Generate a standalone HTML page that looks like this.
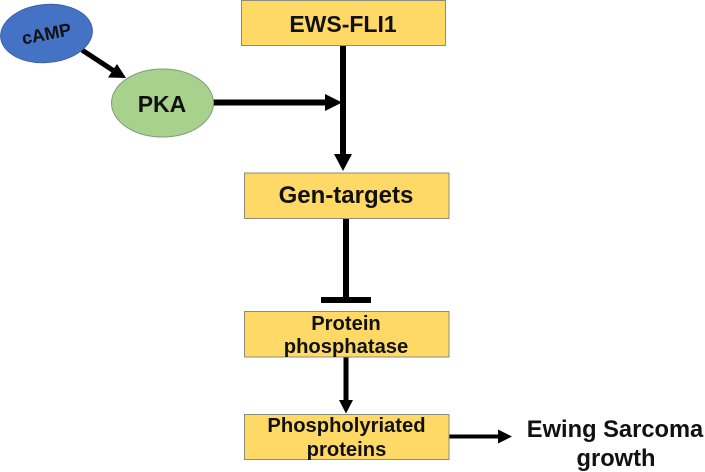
<!DOCTYPE html>
<html lang="en">
<head>
<meta charset="utf-8">
<title>EWS-FLI1 pathway diagram</title>
<style>
html,body{margin:0;padding:0;background:#fff;width:705px;height:472px;overflow:hidden}
svg{display:block}
text{font-family:"Liberation Sans",Arial,sans-serif;font-weight:bold;fill:#111;text-anchor:middle}
.box{fill:#FFD966;stroke:#8c8c7c;stroke-width:1}
.line{stroke:#000;fill:none}
.head{fill:#000}
#soft{filter:blur(0.35px)}
</style>
</head>
<body>
<svg id="soft" width="705" height="472" viewBox="0 0 705 472" xmlns="http://www.w3.org/2000/svg">
  <rect x="0" y="0" width="705" height="472" fill="#fff"/>

  <g>
    <line class="line" x1="82" y1="50" x2="114" y2="71" stroke-width="5"/>
    <polygon class="head" points="126,78 108,77.500 117,64"/>
  </g>
  <g>
    <line class="line" x1="213" y1="102.500" x2="327" y2="102.500" stroke-width="6"/>
    <polygon class="head" points="342,102.500 325,94 325,111"/>
  </g>
  <g>
    <line class="line" x1="343" y1="45" x2="343" y2="157" stroke-width="6"/>
    <polygon class="head" points="343,171 334,154 352,154"/>
  </g>
  <g>
    <line class="line" x1="346" y1="218" x2="346" y2="298" stroke-width="6"/>
    <rect class="head" x="321" y="297" width="50" height="6"/>
  </g>
  <g>
    <line class="line" x1="346" y1="357" x2="346" y2="402" stroke-width="5"/>
    <polygon class="head" points="346,413.500 339,400 353,400"/>
  </g>
  <g>
    <line class="line" x1="449" y1="436.500" x2="500" y2="436.500" stroke-width="4"/>
    <polygon class="head" points="512,436.500 498,429.500 498,443.500"/>
  </g>

  <g>
    <ellipse cx="46.500" cy="33.500" rx="46" ry="29" fill="#4472C4" stroke="#3a62a8" stroke-width="1" transform="rotate(-5 46.500 33.500)"/>
    <text x="46.500" y="40" font-size="18" transform="rotate(-11 46.500 34)">cAMP</text>
  </g>
  <g>
    <ellipse cx="162.500" cy="103" rx="51" ry="34" fill="#A9D18E" stroke="#7f9c78" stroke-width="1"/>
    <text x="162" y="112" font-size="23">PKA</text>
  </g>

  <g>
    <rect class="box" x="241.500" y="0.500" width="204" height="45"/>
    <text x="343" y="32" font-size="23">EWS-FLI1</text>
  </g>
  <g>
    <rect class="box" x="244.500" y="173" width="204.500" height="45.500"/>
    <text x="346" y="203" font-size="24">Gen-targets</text>
  </g>
  <g>
    <rect class="box" x="244.500" y="311.500" width="204.500" height="45.500"/>
    <text x="346" y="330" font-size="20.200">Protein</text>
    <text x="346" y="353" font-size="20.200">phosphatase</text>
  </g>
  <g>
    <rect class="box" x="244.500" y="414.500" width="204.500" height="45"/>
    <text x="346.500" y="432" font-size="20.200">Phospholyriated</text>
    <text x="346.500" y="456" font-size="20.200">proteins</text>
  </g>

  <g>
    <text x="615" y="437" font-size="23.700">Ewing Sarcoma</text>
    <text x="616" y="466" font-size="23.700">growth</text>
  </g>
</svg>
</body>
</html>
